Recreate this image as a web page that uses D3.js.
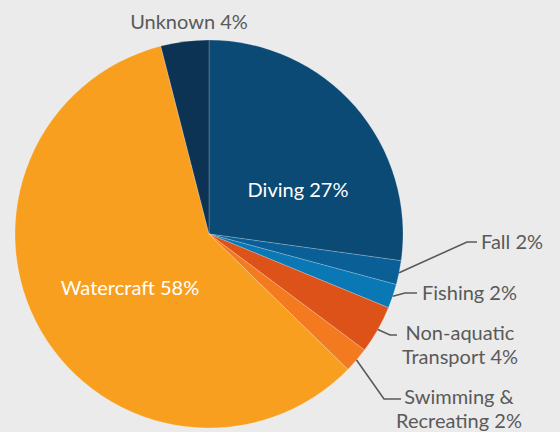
<!DOCTYPE html>
<html>
<head>
<meta charset="utf-8">
<script src="https://cdn.jsdelivr.net/npm/d3@7"></script>
<style>
  html, body { margin: 0; padding: 0; background: #ebebeb; }
  svg { display: block; font-family: Lato, "Open Sans", sans-serif; }
</style>
</head>
<body>
<div id="chart"></div>
<script>
const categories = ["Diving", "Fall", "Fishing", "Non-aquatic Transport", "Swimming & Recreating", "Watercraft", "Unknown"];
const shares = [27.2, 2.0, 2.0, 4.0, 2.1, 58.7, 4.0];
const labelTexts = [
  ["Diving 27%"],
  ["Fall 2%"],
  ["Fishing 2%"],
  ["Non-aquatic", "Transport 4%"],
  ["Swimming &", "Recreating 2%"],
  ["Watercraft 58%"],
  ["Unknown 4%"]
];
const colors = ["#0a4a75", "#0a5f96", "#0a78b5", "#dc5219", "#f47a20", "#f89f1f", "#0c3354"];

const width = 560, height = 432;
const cx = 209, cy = 234, radius = 194;
const fontSize = 20, lineGap = 24;

// label placement: inside labels have no leader, outside ones get an elbow line
const labelLayout = {
  "Diving": { x: 298, y: 197, fill: "#fff" },
  "Watercraft": { x: 130, y: 295, fill: "#fff" },
  "Unknown": { x: 189, y: 29, fill: "#5a5a5a" },
  "Fall": { x: 481, y: 249, anchor: "start", elbow: [467, 242], end: 477 },
  "Fishing": { x: 422, y: 300, anchor: "start", elbow: [405, 293], end: 417 },
  "Non-aquatic Transport": { x: 460, y: 339.5, elbow: [390, 335], end: 397 },
  "Swimming & Recreating": { x: 459, y: 403.5, elbow: [384, 399], end: 401 }
};

const data = categories.map((c, i) => ({ name: c, value: shares[i], lines: labelTexts[i], color: colors[i] }));

const svg = d3.select("#chart")
  .append("svg")
  .attr("width", width)
  .attr("height", height);

const pie = d3.pie().sort(null).value(d => d.value);
const arcs = pie(data);

const arc = d3.arc().innerRadius(0).outerRadius(radius);
const edge = d3.arc().innerRadius(radius).outerRadius(radius);

const g = svg.append("g").attr("transform", `translate(${cx},${cy})`);

g.selectAll("path")
  .data(arcs)
  .enter()
  .append("path")
  .attr("d", arc)
  .attr("fill", d => d.data.color)
  .attr("stroke", "rgba(255,255,255,0.35)")
  .attr("stroke-width", 0.6);

// leader lines
const line = d3.line();
arcs.forEach(d => {
  const L = labelLayout[d.data.name];
  if (!L.elbow) return;
  const p = edge.centroid(d);
  const start = [p[0] + cx, p[1] + cy];
  svg.append("path")
    .attr("d", line([start, L.elbow, [L.end, L.elbow[1]]]))
    .attr("fill", "none")
    .attr("stroke", "#595959")
    .attr("stroke-width", 1.6);
});

// labels
arcs.forEach(d => {
  const L = labelLayout[d.data.name];
  const t = svg.append("text")
    .attr("x", L.x)
    .attr("y", L.y)
    .attr("text-anchor", L.anchor || "middle")
    .attr("fill", L.fill || "#5a5a5a")
    .style("font-size", fontSize + "px");
  d.data.lines.forEach((s, i) => {
    t.append("tspan")
      .attr("x", L.x)
      .attr("dy", i === 0 ? 0 : lineGap)
      .text(s);
  });
});
</script>
</body>
</html>
